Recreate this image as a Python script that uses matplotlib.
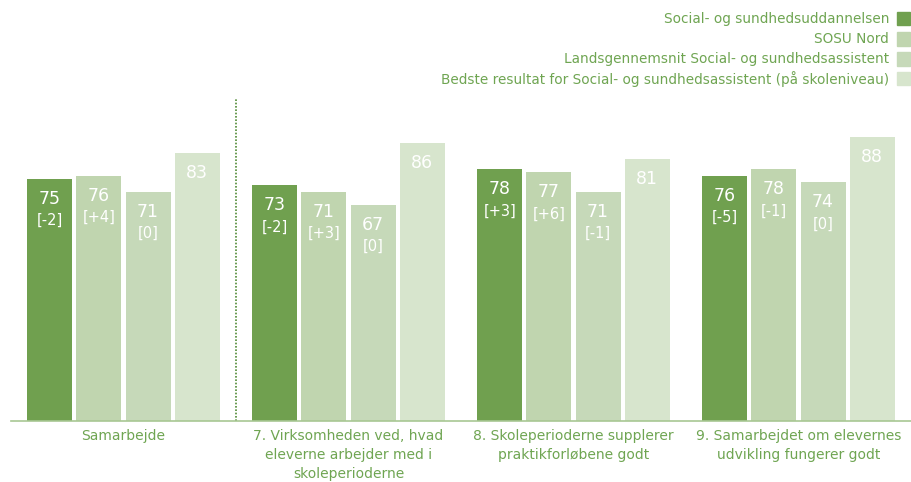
import matplotlib
matplotlib.use("Agg")
import matplotlib.pyplot as plt
from matplotlib.patches import Rectangle
import numpy as np

# data
categories = ["Samarbejde",
              "7. Virksomheden ved, hvad\neleverne arbejder med i\nskoleperioderne",
              "8. Skoleperioderne supplerer\npraktikforløbene godt",
              "9. Samarbejdet om elevernes\nudvikling fungerer godt"]
series = ["Social- og sundhedsuddannelsen",
          "SOSU Nord",
          "Landsgennemsnit Social- og sundhedsassistent",
          "Bedste resultat for Social- og sundhedsassistent (på skoleniveau)"]
uddannelse = [75, 73, 78, 76]
sosu_nord = [76, 71, 77, 78]
landsgennemsnit = [71, 67, 71, 74]
bedste = [83, 86, 81, 88]
diff_uddannelse = ["[-2]", "[-2]", "[+3]", "[-5]"]
diff_sosu_nord = ["[+4]", "[+3]", "[+6]", "[-1]"]
diff_landsgennemsnit = ["[0]", "[0]", "[-1]", "[0]"]

colors = ["#70a04f", "#c0d5af", "#c6d9b9", "#d7e5cd"]
text_green = "#6fa552"

values = [uddannelse, sosu_nord, landsgennemsnit, bedste]
diffs = [diff_uddannelse, diff_sosu_nord, diff_landsgennemsnit, None]

fig = plt.figure(figsize=(9.11, 4.82), dpi=100)
ax = fig.add_axes([0.0121, 0.1266, 0.9879, 0.6701])

x = np.arange(len(categories))
width = 0.2
step = 0.218
pt = 100 / 323.0  # data units per pixel (vertical)

for i, (vals, col) in enumerate(zip(values, colors)):
    pos = x + (i - 1.5) * step
    ax.bar(pos, vals, width=width, color=col, edgecolor="none")
    for j, v in enumerate(vals):
        ax.text(pos[j], v - 20 * pt, str(v), ha="center", va="center",
                color="white", fontsize=12.5)
        if diffs[i] is not None:
            ax.text(pos[j], v - 42 * pt, diffs[i][j], ha="center", va="center",
                    color="white", fontsize=10.5)

ax.set_xlim(-0.5, len(categories) - 0.5)
ax.set_ylim(0, 100)
ax.axvline(0.5, color="#4f8a33", linestyle=(0, (1, 1)), linewidth=1.2)

for s in ["top", "right", "left"]:
    ax.spines[s].set_visible(False)
ax.spines["bottom"].set_color("#a8c793")
ax.spines["bottom"].set_linewidth(1.2)
ax.set_yticks([])
ax.set_xticks(x)
ax.set_xticklabels(categories, color=text_green, fontsize=10, linespacing=1.45)
ax.tick_params(axis="x", length=0, pad=6)

# legend, right aligned with squares after the text
for k, (name, col) in enumerate(zip(series, colors)):
    yc = 1 - (19 + 20 * k) / 482.0
    fig.patches.append(Rectangle((897 / 911.0, yc - 6.5 / 482.0), 13 / 911.0, 13 / 482.0,
                                 transform=fig.transFigure, color=col, figure=fig))
    fig.text(889 / 911.0, yc, name, ha="right", va="center", color=text_green,
             fontsize=9.8)

fig.savefig("out.png", dpi=100)
